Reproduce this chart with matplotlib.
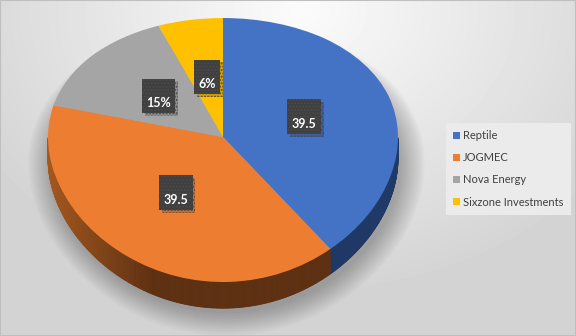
import numpy as np
import matplotlib
matplotlib.use('Agg')
import matplotlib.pyplot as plt
import matplotlib.patheffects as pe
from matplotlib.patches import Ellipse, Rectangle
from matplotlib.collections import PolyCollection
from matplotlib.colors import to_rgb

# data
categories = ['Reptile', 'JOGMEC', 'Nova Energy', 'Sixzone Investments']
shares = [39.5, 39.5, 15, 6]
value_labels = ['39.5', '39.5', '15%', '6%']
top_colors = ['#4472C4', '#ED7D31', '#A5A5A5', '#FFC000']

plt.rcParams['font.family'] = ['Lato', 'DejaVu Sans']

# fake perspective: back half of the pie is squashed more than the front
c = 0.0985


def fwd(y):
    return y / (1 + c * y)


def inv(u):
    return u / (1 - c * u)


def mix(a, b, f):
    a, b = np.array(to_rgb(a)), np.array(to_rgb(b))
    return tuple(a + (b - a) * f)


def side_color(i, x):
    if i == 0:
        return mix('#1B2F57', '#203A68', (x + 0.6) / 1.6)
    if i == 1:
        f = np.clip((x + 1.0) / 0.6, 0, 1)
        return mix('#A3581F', '#5E3012', f)
    return mix(top_colors[i], '#000000', 0.5)


fig = plt.figure(figsize=(5.76, 3.36), dpi=100)

# background gradient
bg = fig.add_axes([0, 0, 1, 1], zorder=0)
gx, gy = np.meshgrid(np.arange(576), np.arange(336))
dist = np.hypot(gx - 300, (gy - 10) * 1.3) / 380
shade = 0.985 - 0.16 * np.clip(dist, 0, 1)
bg.imshow(shade, cmap='gray', vmin=0, vmax=1, extent=(0, 576, 336, 0), aspect='auto')
bg.axis('off')

ax = fig.add_axes([0, 0, 1, 1], zorder=1)
ax.patch.set_visible(False)
ax.set_yscale('function', functions=(fwd, inv))

wedges, texts = ax.pie(shares, colors=top_colors, startangle=90, counterclock=False,
                       labels=value_labels, labeldistance=0.49,
                       wedgeprops=dict(linewidth=0, zorder=3))

# side wall of the 3D pie
d = 0.16
polys, cols = [], []
for i, w in enumerate(wedges):
    t = np.radians(np.linspace(w.theta1, w.theta2, 300))
    t = t[np.sin(t) < 0]
    for a, b in zip(t[:-1], t[1:]):
        polys.append([(np.cos(a), np.sin(a)), (np.cos(b), np.sin(b)),
                      (np.cos(b), np.sin(b) - d), (np.cos(a), np.sin(a) - d)])
        cols.append(side_color(i, np.cos(a)))
ax.add_collection(PolyCollection(polys, facecolors=cols, edgecolors=cols,
                                 linewidths=0.6, zorder=2))

# soft shadow under the pie
for k in range(12):
    s = 1.0 + 0.012 * k
    ax.add_patch(Ellipse((0.02, -d - 0.03), width=2 * s, height=2 * s,
                         facecolor='black', alpha=0.024, lw=0, zorder=1))

for t in texts:
    t.set_text('\n' + t.get_text())
    t.set(ha='center', va='center', color='white', fontweight='bold',
          fontsize=9, linespacing=1.2, zorder=5)
    t.set_bbox(dict(boxstyle='square,pad=0.35', facecolor='#3F3F3F',
                    edgecolor='#4A4A4A', linewidth=0, hatch='.....'))
    t.get_bbox_patch().set_path_effects(
        [pe.withSimplePatchShadow(offset=(2, -2), shadow_rgbFace='black', alpha=0.15),
         pe.Normal()])

ax.set_aspect('auto')
ax.set_xlim(-223 / 175, 353 / 175)
ax.set_ylim(-1.324, 1.169)
ax.axis('off')

leg = fig.legend(wedges, categories, loc='upper left',
                 bbox_to_anchor=(446 / 576, 1 - 123 / 336), fontsize=8,
                 handlelength=0.6, handleheight=0.6, handletextpad=0.3,
                 labelspacing=1.0, borderpad=0.65, borderaxespad=0,
                 fancybox=False, framealpha=1)
leg.get_frame().set_facecolor('#EBEBEB')
leg.get_frame().set_linewidth(0)
for txt in leg.get_texts():
    txt.set_color('#404040')

fig.add_artist(Rectangle((0, 0), 1, 1, transform=fig.transFigure, fill=False,
                         edgecolor='#BFBFBF', lw=1.5, zorder=10))

fig.savefig('out.png', dpi=100)
